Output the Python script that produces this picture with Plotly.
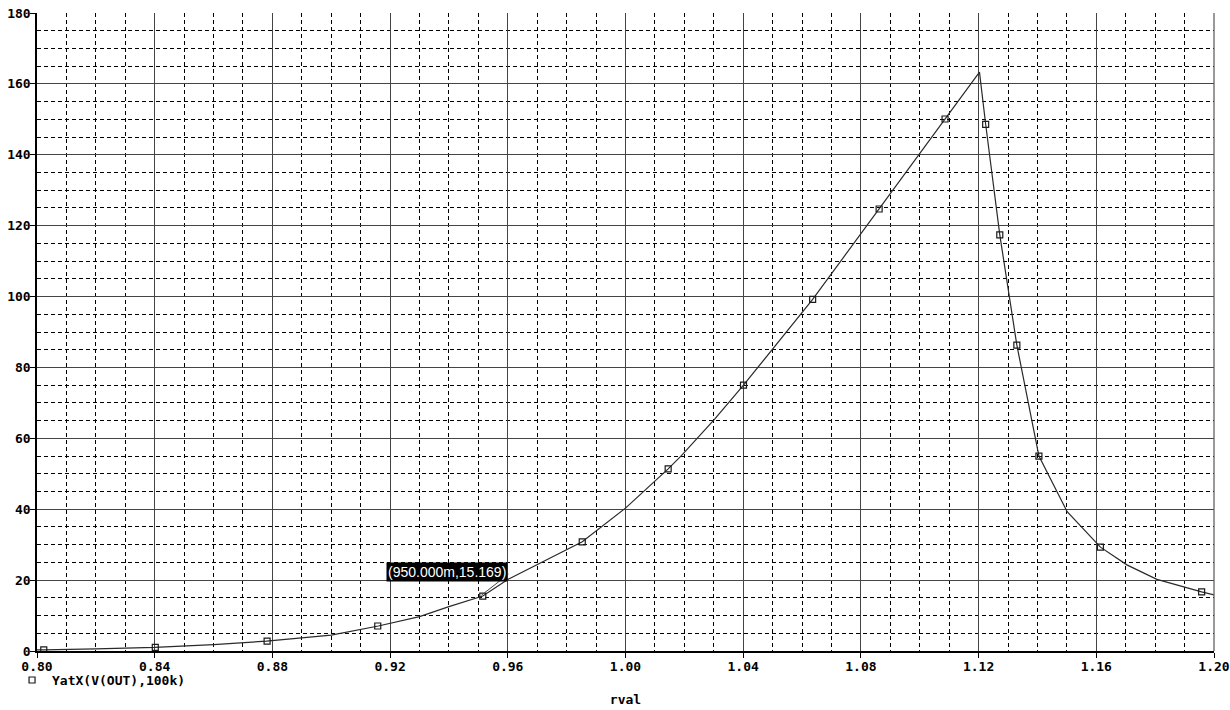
import plotly.graph_objects as go

# Curve samples (rval, YatX(V(OUT),100k))
rval = [0.800, 0.8023, 0.820, 0.840, 0.860, 0.878, 0.900, 0.916, 0.930, 0.940,
        0.9515, 0.960, 0.9853, 1.000, 1.0145, 1.019, 1.0303, 1.0401, 1.0636,
        1.0862, 1.1086, 1.1203, 1.1224, 1.1272, 1.1330, 1.1405, 1.1501,
        1.1614, 1.1704, 1.1806, 1.1958, 1.2003]
yatx = [0.3, 0.3, 0.6, 1.0, 1.8, 2.8, 4.5, 7.05, 9.7, 12.5,
        15.5, 20.2, 30.8, 40.3, 51.4, 55.1, 65.4, 75.0, 99.2,
        124.7, 150.1, 163.3, 148.6, 117.4, 86.3, 55.0, 39.3,
        29.3, 24.3, 20.2, 16.7, 15.8]

# Marker positions
mark_x = [0.8023, 0.8402, 0.8782, 0.9158, 0.9515, 0.9853, 1.0145, 1.0401,
          1.0636, 1.0862, 1.1086, 1.1224, 1.1272, 1.1330, 1.1405, 1.1614, 1.1958]
mark_y = [0.3, 1.0, 2.8, 7.05, 15.5, 30.8, 51.4, 75.0,
          99.2, 124.7, 150.1, 148.6, 117.4, 86.3, 55.0, 29.3, 16.7]

x_ticks = [0.80, 0.84, 0.88, 0.92, 0.96, 1.00, 1.04, 1.08, 1.12, 1.16, 1.20]
x_labels = ["0.80", "0.84", "0.88", "0.92", "0.96", "1.00", "1.04", "1.08", "1.12", "1.16", "1.20"]
y_ticks = [0, 20, 40, 60, 80, 100, 120, 140, 160, 180]
y_labels = ["0", "20", "40", "60", "80", "100", "120", "140", "160", "180"]

series_name = "YatX(V(OUT),100k)"
cursor_x, cursor_y = 0.95, 15.169
cursor_label = "(950.000m,15.169)"

FONT = "DejaVu Sans Mono"
TICKFONT = dict(family=FONT, size=13, color="black", weight="bold")

fig = go.Figure()
fig.add_trace(go.Scatter(x=rval, y=yatx, mode="lines",
                         line=dict(color="#2a2a2a", width=1.2),
                         showlegend=False, hoverinfo="skip"))
fig.add_trace(go.Scatter(x=mark_x, y=mark_y, mode="markers", name=series_name,
                         marker=dict(symbol="square-open", size=6,
                                     color="#1a1a1a", line=dict(width=1.2)),
                         showlegend=True))

axis_common = dict(
    showline=True, linecolor="black", linewidth=1.5,
    ticks="outside", ticklen=5, tickwidth=1.2, tickcolor="black",
    showgrid=True, gridcolor="#444444", gridwidth=1,
    tickfont=TICKFONT, zeroline=False, automargin=False,
    ticklabeloverflow="allow",
)

fig.update_xaxes(range=[0.80, 1.20], tickvals=x_ticks, ticktext=x_labels,
                 minor=dict(dtick=0.01, tick0=0.80, showgrid=True, griddash="4px,3px",
                            gridcolor="black", gridwidth=1, ticks=""),
                 ticklabelstandoff=-2,
                 title=dict(text="rval", font=TICKFONT, standoff=22),
                 **axis_common)
fig.update_yaxes(range=[0, 180], tickvals=y_ticks, ticktext=y_labels,
                 minor=dict(dtick=5, tick0=0, showgrid=True, griddash="4px,3px",
                            gridcolor="black", gridwidth=1, ticks=""),
                 ticklabelstandoff=-3,
                 **axis_common)

# right border line
fig.add_shape(type="line", xref="paper", yref="paper", x0=1, x1=1, y0=0, y1=1,
              line=dict(color="#555", width=1.2))

# cursor label with leader line
fig.add_shape(type="line", xref="x", yref="y", xsizemode="pixel", ysizemode="pixel",
              xanchor=cursor_x, yanchor=cursor_y, x0=3, y0=2, x1=30, y1=23,
              line=dict(color="#444", width=1))
fig.add_annotation(x=cursor_x, y=cursor_y, xref="x", yref="y", text=cursor_label,
                   showarrow=False, xshift=-31, yshift=25,
                   bgcolor="black", borderpad=1,
                   font=dict(family="Liberation Sans Narrow, Liberation Sans", size=14,
                             color="white"))

fig.update_layout(
    width=1230, height=710,
    margin=dict(l=34, r=16, t=13, b=59),
    paper_bgcolor="white", plot_bgcolor="white",
    font=dict(family=FONT, size=12, color="black"),
    legend=dict(x=-0.0212, y=-0.022, xanchor="left", yanchor="top",
                bgcolor="rgba(0,0,0,0)", borderwidth=0,
                font=TICKFONT, itemwidth=30),
)

fig.write_html("out.html",
               config={"displayModeBar": False},
               post_script="document.body.style.margin='0px';document.body.style.overflow='hidden';")
